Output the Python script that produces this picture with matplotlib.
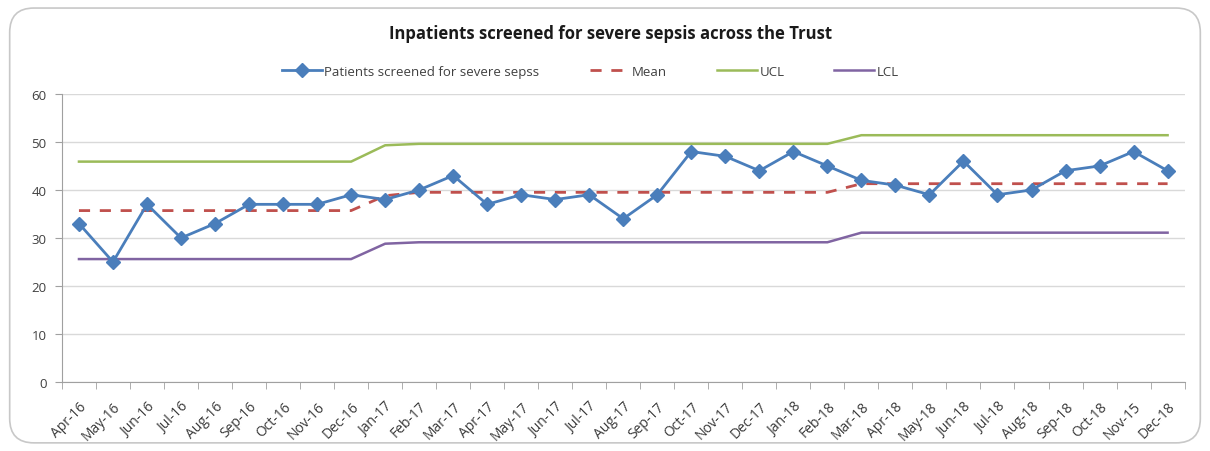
import matplotlib
matplotlib.use("Agg")
import matplotlib.pyplot as plt
import matplotlib.transforms as mtransforms
from matplotlib.patches import FancyBboxPatch
import numpy as np

plt.rcParams['font.family'] = ['Open Sans', 'DejaVu Sans']

months = ['Apr-16', 'May-16', 'Jun-16', 'Jul-16', 'Aug-16', 'Sep-16', 'Oct-16', 'Nov-16',
          'Dec-16', 'Jan-17', 'Feb-17', 'Mar-17', 'Apr-17', 'May-17', 'Jun-17', 'Jul-17',
          'Aug-17', 'Sep-17', 'Oct-17', 'Nov-17', 'Dec-17', 'Jan-18', 'Feb-18', 'Mar-18',
          'Apr-18', 'May-18', 'Jun-18', 'Jul-18', 'Aug-18', 'Sep-18', 'Oct-18', 'Nov-15',
          'Dec-18']
screened = [33, 25, 37, 30, 33, 37, 37, 37, 39, 38, 40, 43, 37, 39, 38, 39, 34, 39,
            48, 47, 44, 48, 45, 42, 41, 39, 46, 39, 40, 44, 45, 48, 44]
mean = [35.7] * 9 + [38.8] + [39.5] * 13 + [41.3] * 10
ucl = [45.9] * 9 + [49.3] + [49.6] * 13 + [51.4] * 10
lcl = [25.6] * 9 + [28.8] + [29.1] * 13 + [31.1] * 10

fig = plt.figure(figsize=(12.1, 4.52), dpi=100)
fig.patch.set_facecolor('white')

# rounded outer border of the chart, kept behind the axes
frame = FancyBboxPatch((0.008, 0.018), 0.984, 0.962, boxstyle="round,pad=0,rounding_size=0.02",
                       transform=fig.transFigure, facecolor='white', edgecolor='#c8c8c8',
                       linewidth=1.2, mutation_aspect=2.7, zorder=-10)
fig.patches.append(frame)

ax = fig.add_axes([0.0512, 0.1527, 0.9278, 0.6373])
ax.set_facecolor('none')
x = np.arange(len(months))

ax.plot(x, screened, color='#4a7ebb', lw=2, marker='D', markersize=7,
        label='Patients screened for severe sepss', zorder=5)
ax.plot(x, mean, color='#c0504d', lw=2, ls=(0, (4, 3.5)), label='Mean', zorder=4)
ax.plot(x, ucl, color='#9bbb59', lw=1.8, label='UCL', zorder=3)
ax.plot(x, lcl, color='#8064a2', lw=1.8, label='LCL', zorder=3)

ax.set_xlim(-0.5, len(months) - 0.5)
ax.set_ylim(0, 60)
ax.set_yticks(range(0, 61, 10))
ax.yaxis.grid(True, color='#d9d9d9', lw=1)
ax.set_axisbelow(True)

ax.set_xticks(x)
ax.set_xticklabels(months, rotation=45, ha='right', rotation_mode='anchor', fontsize=10,
                   color='#3a3a3a')
shift = mtransforms.ScaledTranslation(5 / 100, 0, fig.dpi_scale_trans)
for lbl in ax.get_xticklabels():
    lbl.set_transform(lbl.get_transform() + shift)
ax.set_xticks(np.arange(-0.5, len(months)), minor=True)
ax.tick_params(axis='x', which='major', length=0, pad=12)
ax.tick_params(axis='x', which='minor', length=5, color='#a0a0a0')
ax.tick_params(axis='y', length=5, color='#a0a0a0', labelsize=9.5, labelcolor='#404040', pad=6)

for side in ['top', 'right']:
    ax.spines[side].set_visible(False)
ax.spines['left'].set_color('#a0a0a0')
ax.spines['bottom'].set_color('#a0a0a0')

fig.text(0.505, 0.925, 'Inpatients screened for severe sepsis across the Trust',
         ha='center', va='center', fontsize=12, fontweight='bold', color='#1a1a1a')
fig.legend(loc='center', bbox_to_anchor=(0.488, 0.84), ncol=4, frameon=False,
           fontsize=9.5, columnspacing=3.8, handlelength=3.0, handletextpad=0.2,
           labelcolor='#404040')

fig.savefig('out.png', dpi=100, facecolor='white')
